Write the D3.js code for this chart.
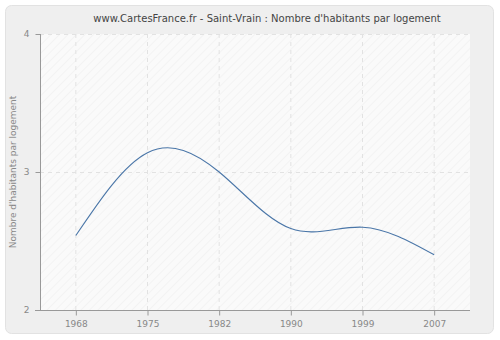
<!DOCTYPE html>
<html>
<head>
<meta charset="utf-8">
<script src="https://cdn.jsdelivr.net/npm/d3@7"></script>
<style>
  html, body { margin: 0; padding: 0; background: #fff; }
  svg { display: block; font-family: "DejaVu Sans", Verdana, sans-serif; }
</style>
</head>
<body>
<svg id="chart" width="500" height="340"></svg>
<script>
// Census years and average number of inhabitants per dwelling
const years = ["1968", "1975", "1982", "1990", "1999", "2007"];
const values = [2.54, 3.14, 3.00, 2.59, 2.60, 2.40];
const yTicks = [2, 3, 4];
const title = "www.CartesFrance.fr - Saint-Vrain : Nombre d'habitants par logement";
const yLabel = "Nombre d'habitants par logement";

const svg = d3.select("#chart");
const W = 500, H = 340;
const m = { left: 40, right: 30, top: 34, bottom: 30 };

// Outer rounded frame
svg.append("rect")
  .attr("x", 5.5).attr("y", 5.5)
  .attr("width", W - 12).attr("height", H - 12)
  .attr("rx", 6)
  .attr("fill", "#efefef")
  .attr("stroke", "#e2e2e2");

// Hatched fill for the plot area
const defs = svg.append("defs");
const pat = defs.append("pattern")
  .attr("id", "hatch")
  .attr("patternUnits", "userSpaceOnUse")
  .attr("width", 6).attr("height", 6)
  .attr("patternTransform", "rotate(45)");
pat.append("rect").attr("width", 6).attr("height", 6).attr("fill", "#fafafa");
pat.append("line").attr("x1", 0).attr("y1", 0).attr("x2", 0).attr("y2", 6)
  .attr("stroke", "#efefef").attr("stroke-width", 1.2);

const x = d3.scalePoint()
  .domain(years)
  .range([m.left, W - m.right])
  .padding(0.5);

const y = d3.scaleLinear()
  .domain([2, 4])
  .range([H - m.bottom, m.top]);

svg.append("rect")
  .attr("x", m.left).attr("y", m.top)
  .attr("width", W - m.right - m.left)
  .attr("height", H - m.bottom - m.top)
  .attr("fill", "url(#hatch)");

// Dashed grid lines
const grid = svg.append("g").attr("stroke", "#e2e2e2").attr("stroke-dasharray", "4,4");
grid.selectAll("line.v").data(years).join("line")
  .attr("x1", d => x(d)).attr("x2", d => x(d))
  .attr("y1", m.top).attr("y2", H - m.bottom);
grid.selectAll("line.h").data(yTicks.slice(1)).join("line")
  .attr("x1", m.left).attr("x2", W - m.right)
  .attr("y1", d => y(d) + 0.5).attr("y2", d => y(d) + 0.5);

// Axes
const xAxis = svg.append("g")
  .attr("transform", `translate(0,${H - m.bottom + 0.5})`)
  .call(d3.axisBottom(x).tickSize(5).tickPadding(5));
xAxis.select(".domain").attr("d", `M${m.left - 5},0H${W - m.right}`);

const yAxis = svg.append("g")
  .attr("transform", `translate(${m.left + 0.5},0)`)
  .call(d3.axisLeft(y).tickValues(yTicks).tickFormat(d3.format("d")).tickSize(5).tickPadding(6));
yAxis.select(".domain").attr("d", `M0,${m.top}V${H - m.bottom}`);

[xAxis, yAxis].forEach(g => {
  g.select(".domain").attr("stroke", "#999");
  g.selectAll(".tick line").attr("stroke", "#999");
  g.selectAll(".tick text")
    .attr("fill", "#888")
    .attr("font-size", 9)
    .attr("font-family", "DejaVu Sans, Verdana, sans-serif");
});

// Smooth curve through the values
const line = d3.line()
  .x((d, i) => x(years[i]))
  .y(d => y(d))
  .curve(d3.curveNatural);

svg.append("path")
  .datum(values)
  .attr("d", line)
  .attr("fill", "none")
  .attr("stroke", "#4a76a8")
  .attr("stroke-width", 1.1);

// Title
svg.append("text")
  .attr("x", 267).attr("y", 22)
  .attr("text-anchor", "middle")
  .attr("font-size", 10)
  .attr("fill", "#444")
  .text(title);

// Y axis label
svg.append("text")
  .attr("transform", `translate(16,${(m.top + H - m.bottom) / 2}) rotate(-90)`)
  .attr("text-anchor", "middle")
  .attr("font-size", 9)
  .attr("fill", "#888")
  .text(yLabel);
</script>
</body>
</html>
